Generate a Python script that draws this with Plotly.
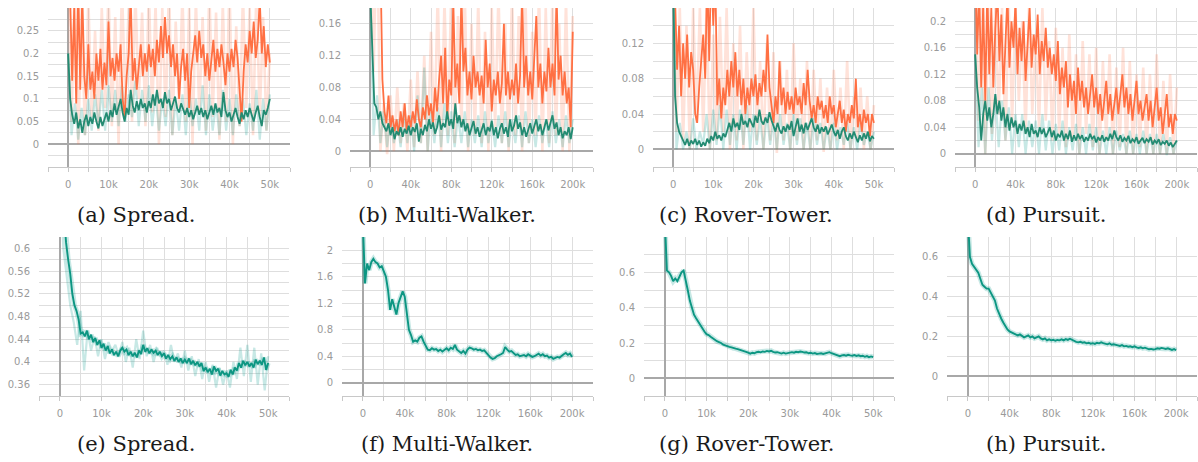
import numpy as np
import plotly.graph_objects as go

# ---------------- data ----------------
# (a) Spread - top row
a_orange = [0.45, 0.32, 0.14, 0.3, 0.09, 0.35, 0.12, 0.33, 0.15, 0.1, 0.22, 0.12, 0.16, 0.1, 0.2, 0.14, 0.21, 0.12, 0.18, 0.13,
            0.27, 0.15, 0.19, 0.14, 0.2, 0.16, 0.22, 0.1, 0.06, 0.15, 0.2, 0.33, 0.14, 0.19, 0.12, 0.17, 0.22, 0.15, 0.2, 0.16,
            0.22, 0.17, 0.21, 0.15, 0.23, 0.18, 0.26, 0.19, 0.28, 0.2, 0.24, 0.17, 0.22, 0.15, 0.2, 0.1, 0.17, 0.21, 0.14, 0.2,
            0.08, 0.16, 0.2, 0.24, 0.18, 0.25, 0.19, 0.22, 0.15, 0.2, 0.14, 0.19, 0.23, 0.16, 0.21, 0.17, 0.22, 0.18, 0.13, 0.2,
            0.16, 0.21, 0.17, 0.23, 0.19, 0.12, 0.05, 0.16, 0.22, 0.18, 0.25, 0.2, 0.27, 0.19, 0.23, 0.32, 0.2, 0.26, 0.17, 0.22, 0.18]
a_green = [0.2, 0.1, 0.065, 0.045, 0.07, 0.035, 0.055, 0.025, 0.05, 0.065, 0.04, 0.06, 0.045, 0.07, 0.05, 0.035, 0.06, 0.04, 0.055, 0.07,
           0.05, 0.075, 0.06, 0.09, 0.065, 0.08, 0.1, 0.07, 0.05, 0.08, 0.065, 0.12, 0.085, 0.07, 0.095, 0.075, 0.1, 0.08, 0.09, 0.07,
           0.095, 0.08, 0.11, 0.085, 0.12, 0.09, 0.1, 0.08, 0.115, 0.09, 0.1, 0.075, 0.09, 0.105, 0.08, 0.07, 0.09, 0.075, 0.065, 0.08,
           0.06, 0.075, 0.055, 0.07, 0.085, 0.065, 0.08, 0.06, 0.075, 0.055, 0.07, 0.085, 0.065, 0.09, 0.07, 0.08, 0.06, 0.115, 0.075, 0.06,
           0.07, 0.05, 0.065, 0.08, 0.06, 0.045, 0.07, 0.055, 0.075, 0.06, 0.08, 0.065, 0.05, 0.07, 0.085, 0.06, 0.04, 0.075, 0.065, 0.08, 0.1]
a_orange_raw = [0.4, 0.05, 0.35, 0.0, 0.3, 0.02, 0.32, 0.06, 0.25, 0.03, 0.3, 0.08, 0.34, 0.04, 0.28, 0.0, 0.35, 0.09, 0.3, 0.05,
                0.33, 0.1, 0.29, 0.04, 0.34, 0.07, 0.31, 0.0, 0.3, 0.06, 0.35, 0.02, 0.27, 0.08, 0.33, 0.05, 0.3, 0.0, 0.32, 0.07,
                0.28, 0.03, 0.34, 0.06, 0.29, 0.01, 0.31, 0.05, 0.35, 0.0, 0.26, 0.04, 0.33, 0.08, 0.3, 0.02, 0.34, 0.06, 0.28, 0.03, 0.2]
a_green_raw = [0.2, 0.02, 0.09, 0.01, 0.08, 0.02, 0.1, 0.03, 0.11, 0.04, 0.12, 0.03, 0.13, 0.05, 0.12, 0.04, 0.13, 0.05, 0.11, 0.06,
               0.14, 0.04, 0.12, 0.05, 0.13, 0.04, 0.11, 0.03, 0.1, 0.04, 0.12, 0.02, 0.1, 0.03, 0.11, 0.02, 0.12, 0.04, 0.1, 0.03,
               0.13, 0.02, 0.11, 0.03, 0.09, 0.02, 0.12, 0.03, 0.1, 0.02, 0.11, 0.04, 0.1, 0.02, 0.09, 0.03, 0.12, 0.01, 0.1, 0.03, 0.11]

# (b) Multi-Walker - top row
b_orange = [0.3, 0.25, 0.22, 0.3, 0.2, 0.24, 0.09, 0.05, 0.035, 0.07, 0.03, 0.045, 0.025, 0.04, 0.02, 0.05, 0.03, 0.06, 0.025, 0.045,
            0.03, 0.05, 0.035, 0.065, 0.04, 0.03, 0.055, 0.04, 0.07, 0.045, 0.06, 0.035, 0.08, 0.05, 0.09, 0.12, 0.06, 0.13, 0.04, 0.09,
            0.07, 0.19, 0.08, 0.11, 0.06, 0.2, 0.1, 0.13, 0.07, 0.1, 0.065, 0.12, 0.08, 0.1, 0.07, 0.095, 0.06, 0.14, 0.08, 0.11,
            0.05, 0.09, 0.07, 0.1, 0.06, 0.085, 0.16, 0.07, 0.1, 0.065, 0.09, 0.07, 0.11, 0.06, 0.095, 0.2, 0.08, 0.12, 0.07, 0.1,
            0.065, 0.12, 0.17, 0.08, 0.11, 0.06, 0.1, 0.075, 0.13, 0.08, 0.11, 0.07, 0.2, 0.09, 0.12, 0.07, 0.1, 0.06, 0.08, 0.03, 0.15]
b_green = [0.2, 0.13, 0.06, 0.055, 0.04, 0.05, 0.035, 0.03, 0.025, 0.035, 0.02, 0.03, 0.015, 0.025, 0.02, 0.03, 0.018, 0.028, 0.022, 0.032,
           0.02, 0.03, 0.024, 0.035, 0.012, 0.028, 0.02, 0.033, 0.025, 0.04, 0.028, 0.036, 0.022, 0.03, 0.045, 0.027, 0.035, 0.03, 0.05, 0.032,
           0.04, 0.028, 0.06, 0.035, 0.045, 0.03, 0.04, 0.025, 0.035, 0.02, 0.03, 0.038, 0.022, 0.03, 0.018, 0.028, 0.035, 0.02, 0.03, 0.025,
           0.038, 0.02, 0.03, 0.016, 0.028, 0.035, 0.022, 0.03, 0.018, 0.04, 0.025, 0.032, 0.045, 0.028, 0.036, 0.02, 0.03, 0.018, 0.026, 0.035,
           0.022, 0.03, 0.04, 0.025, 0.034, 0.02, 0.03, 0.04, 0.026, 0.035, 0.045, 0.028, 0.036, 0.02, 0.03, 0.016, 0.025, 0.02, 0.03, 0.015, 0.03]
b_orange_raw = [0.3, 0.1, 0.3, 0.0, 0.06, -0.004, 0.07, 0.0, 0.08, 0.01, 0.06, 0.0, 0.09, 0.005, 0.1, 0.01, 0.12, 0.0, 0.15, 0.02,
                0.2, 0.0, 0.19, 0.02, 0.2, 0.01, 0.17, 0.03, 0.2, 0.0, 0.16, 0.02, 0.19, 0.01, 0.15, 0.0, 0.18, 0.03, 0.2, 0.01,
                0.16, 0.0, 0.2, 0.02, 0.17, 0.0, 0.19, 0.01, 0.15, 0.02, 0.2, 0.0, 0.18, 0.01, 0.2, 0.02, 0.16, 0.0, 0.19, 0.0, 0.17]
b_green_raw = [0.2, 0.02, 0.07, 0.01, 0.05, 0.005, 0.045, 0.01, 0.04, 0.005, 0.05, 0.01, 0.045, 0.0, 0.07, 0.01, 0.105, 0.0, 0.05, 0.01,
               0.055, 0.005, 0.06, 0.01, 0.05, 0.005, 0.045, 0.01, 0.05, 0.005, 0.04, 0.01, 0.045, 0.005, 0.05, 0.01, 0.04, 0.005, 0.045, 0.01,
               0.05, 0.005, 0.04, 0.01, 0.045, 0.005, 0.05, 0.01, 0.04, 0.005, 0.045, 0.01, 0.04, 0.005, 0.05, 0.01, 0.04, 0.005, 0.045, 0.01, 0.04]

# (c) Rover-Tower - top row
c_orange = [0.25, 0.17, 0.09, 0.14, 0.06, 0.12, 0.08, 0.13, 0.07, 0.11, 0.09, 0.04, 0.03, 0.07, 0.1, 0.13, 0.08, 0.2, 0.1, 0.22,
            0.14, 0.2, 0.05, 0.08, 0.035, 0.07, 0.05, 0.09, 0.06, 0.1, 0.07, 0.11, 0.06, 0.09, 0.05, 0.08, 0.04, 0.07, 0.05, 0.08,
            0.06, 0.085, 0.05, 0.075, 0.06, 0.09, 0.065, 0.13, 0.07, 0.05, 0.03, 0.06, 0.04, 0.1, 0.05, 0.07, 0.04, 0.065, 0.045, 0.06,
            0.04, 0.07, 0.05, 0.06, 0.04, 0.075, 0.05, 0.09, 0.055, 0.035, 0.05, 0.03, 0.06, 0.045, 0.055, 0.035, 0.05, 0.03, 0.06, 0.04,
            0.05, 0.025, 0.04, 0.055, 0.03, 0.045, 0.02, 0.04, 0.03, 0.05, 0.035, 0.08, 0.025, 0.04, 0.02, 0.045, 0.03, 0.04, 0.015, 0.04, 0.03]
c_green = [0.2, 0.06, 0.03, 0.02, 0.015, 0.01, 0.005, 0.012, 0.004, 0.01, 0.006, 0.012, 0.005, 0.01, 0.003, 0.008, 0.004, 0.012, 0.007, 0.015,
           0.01, 0.02, 0.012, 0.016, 0.01, 0.018, 0.014, 0.022, 0.03, 0.02, 0.035, 0.025, 0.03, 0.022, 0.04, 0.028, 0.032, 0.025, 0.035, 0.03,
           0.025, 0.038, 0.03, 0.045, 0.032, 0.028, 0.036, 0.03, 0.042, 0.033, 0.025, 0.02, 0.03, 0.022, 0.018, 0.026, 0.02, 0.028, 0.022, 0.032,
           0.015, 0.025, 0.035, 0.02, 0.028, 0.018, 0.03, 0.022, 0.03, 0.035, 0.025, 0.02, 0.028, 0.018, 0.025, 0.02, 0.026, 0.017, 0.022, 0.028,
           0.02, 0.015, 0.022, 0.012, 0.02, 0.025, 0.015, 0.01, 0.018, 0.012, 0.02, 0.014, 0.008, 0.016, 0.01, 0.018, 0.012, 0.02, 0.009, 0.015, 0.012]
c_orange_raw = [0.25, 0.02, 0.16, 0.01, 0.14, 0.0, 0.16, 0.03, 0.16, 0.02, 0.16, 0.0, 0.13, 0.01, 0.15, 0.02, 0.16, 0.0, 0.12, 0.01,
                0.14, 0.0, 0.11, 0.02, 0.16, 0.01, 0.1, 0.0, 0.12, 0.01, 0.11, -0.004, 0.1, 0.01, 0.09, 0.0, 0.12, 0.01, 0.08, 0.0,
                0.1, 0.0, 0.09, 0.01, 0.08, -0.003, 0.07, 0.0, 0.09, 0.01, 0.07, 0.0, 0.1, 0.0, 0.06, 0.01, 0.07, 0.0, 0.06, 0.0, 0.05]
c_green_raw = [0.2, 0.0, 0.03, 0.0, 0.02, 0.0, 0.035, 0.0, 0.02, 0.005, 0.04, 0.0, 0.045, 0.005, 0.05, 0.0, 0.045, 0.005, 0.04, 0.0,
               0.045, 0.005, 0.05, 0.0, 0.04, 0.005, 0.035, 0.0, 0.04, 0.005, 0.035, 0.0, 0.04, 0.005, 0.03, 0.0, 0.04, 0.005, 0.035, 0.0,
               0.03, 0.0, 0.035, 0.005, 0.03, 0.0, 0.025, 0.0, 0.03, 0.0, 0.025, 0.005, 0.03, 0.0, 0.025, 0.0, 0.03, 0.005, 0.02, 0.0, 0.02]

# (d) Pursuit - top row
d_orange = [0.3, 0.15, 0.25, 0.1, 0.23, 0.08, 0.25, 0.12, 0.22, 0.1, 0.19, 0.25, 0.14, 0.21, 0.09, 0.18, 0.24, 0.13, 0.2, 0.16,
            0.23, 0.12, 0.19, 0.14, 0.2, 0.11, 0.17, 0.22, 0.13, 0.18, 0.15, 0.21, 0.12, 0.17, 0.14, 0.19, 0.13, 0.16, 0.12, 0.15,
            0.11, 0.17, 0.09, 0.13, 0.1, 0.14, 0.07, 0.12, 0.08, 0.11, 0.06, 0.13, 0.08, 0.11, 0.07, 0.1, 0.06, 0.09, 0.12, 0.07,
            0.1, 0.06, 0.09, 0.05, 0.08, 0.11, 0.06, 0.09, 0.05, 0.08, 0.1, 0.06, 0.09, 0.12, 0.07, 0.1, 0.06, 0.09, 0.05, 0.08,
            0.11, 0.06, 0.08, 0.05, 0.07, 0.09, 0.05, 0.08, 0.04, 0.07, 0.1, 0.05, 0.07, 0.03, 0.06, 0.09, 0.04, 0.06, 0.03, 0.06, 0.05]
d_green = [0.15, 0.1, 0.07, 0.02, 0.06, 0.08, 0.05, 0.07, 0.04, 0.06, 0.09, 0.06, 0.08, 0.05, 0.07, 0.04, 0.06, 0.035, 0.055, 0.04,
           0.05, 0.03, 0.045, 0.035, 0.05, 0.03, 0.04, 0.025, 0.045, 0.03, 0.035, 0.025, 0.04, 0.03, 0.038, 0.025, 0.032, 0.04, 0.025, 0.035,
           0.02, 0.03, 0.025, 0.035, 0.02, 0.03, 0.022, 0.035, 0.018, 0.028, 0.02, 0.03, 0.022, 0.028, 0.018, 0.025, 0.02, 0.03, 0.022, 0.027,
           0.017, 0.025, 0.02, 0.028, 0.018, 0.025, 0.02, 0.03, 0.022, 0.035, 0.025, 0.02, 0.028, 0.018, 0.024, 0.02, 0.027, 0.016, 0.022, 0.018,
           0.025, 0.015, 0.02, 0.024, 0.016, 0.022, 0.018, 0.025, 0.014, 0.02, 0.016, 0.022, 0.013, 0.018, 0.015, 0.02, 0.012, 0.017, 0.01, 0.015, 0.02]
d_orange_raw = [0.3, 0.05, 0.22, 0.0, 0.22, 0.03, 0.22, 0.06, 0.22, 0.02, 0.22, 0.05, 0.22, 0.08, 0.2, 0.03, 0.22, 0.06, 0.18, 0.04,
                0.22, 0.05, 0.17, 0.02, 0.19, 0.03, 0.16, 0.01, 0.18, 0.02, 0.15, 0.0, 0.17, 0.03, 0.15, 0.01, 0.16, 0.0, 0.14, 0.02,
                0.15, 0.0, 0.13, 0.01, 0.16, 0.0, 0.14, 0.0, 0.12, 0.01, 0.13, 0.0, 0.12, 0.0, 0.15, 0.0, 0.11, 0.0, 0.12, 0.0, 0.1]
d_green_raw = [0.15, 0.01, 0.1, 0.0, 0.1, 0.02, 0.09, 0.01, 0.08, 0.02, 0.07, 0.0, 0.06, 0.01, 0.06, 0.0, 0.05, 0.01, 0.05, 0.0,
               0.06, 0.005, 0.05, 0.0, 0.045, 0.005, 0.05, 0.0, 0.04, 0.005, 0.045, 0.0, 0.04, 0.0, 0.045, 0.005, 0.04, 0.0, 0.035, 0.0,
               0.04, 0.0, 0.035, 0.005, 0.03, 0.0, 0.035, 0.0, 0.03, 0.0, 0.035, 0.0, 0.03, 0.0, 0.03, 0.0, 0.03, -0.002, 0.025, 0.0, 0.02]

# (e) Spread - bottom row
e_green = [0.75, 0.7, 0.65, 0.61, 0.58, 0.555, 0.52, 0.5, 0.49, 0.475, 0.45, 0.452, 0.445, 0.455, 0.44, 0.448, 0.435, 0.442, 0.43, 0.438,
           0.425, 0.432, 0.42, 0.428, 0.415, 0.422, 0.412, 0.418, 0.41, 0.42, 0.425, 0.418, 0.422, 0.412, 0.418, 0.41, 0.416, 0.408, 0.42, 0.414,
           0.43, 0.418, 0.424, 0.415, 0.422, 0.416, 0.42, 0.412, 0.418, 0.41, 0.415, 0.406, 0.412, 0.405, 0.41, 0.402, 0.408, 0.4, 0.406, 0.398,
           0.404, 0.398, 0.406, 0.396, 0.402, 0.394, 0.4, 0.392, 0.398, 0.384, 0.39, 0.382, 0.388, 0.378, 0.392, 0.384, 0.388, 0.376, 0.384, 0.378,
           0.38, 0.374, 0.386, 0.378, 0.39, 0.385, 0.398, 0.39, 0.402, 0.394, 0.4, 0.392, 0.398, 0.39, 0.404, 0.396, 0.402, 0.395, 0.408, 0.386, 0.398]
e_green_raw = [0.75, 0.6, 0.55, 0.5, 0.47, 0.43, 0.49, 0.385, 0.455, 0.42, 0.445, 0.41, 0.44, 0.405, 0.435, 0.42, 0.43, 0.41, 0.435, 0.4,
               0.425, 0.39, 0.44, 0.405, 0.455, 0.41, 0.43, 0.4, 0.425, 0.41, 0.42, 0.395, 0.43, 0.4, 0.415, 0.39, 0.42, 0.385, 0.41, 0.375,
               0.405, 0.37, 0.4, 0.365, 0.395, 0.355, 0.39, 0.36, 0.385, 0.355, 0.4, 0.37, 0.425, 0.375, 0.43, 0.365, 0.425, 0.36, 0.415, 0.35, 0.41]

# (f) Multi-Walker - bottom row
f_green = [2.4, 1.5, 1.8, 1.7, 1.82, 1.87, 1.82, 1.8, 1.74, 1.76, 1.68, 1.6, 1.4, 1.1, 1.26, 1.12, 1.03, 1.2, 1.3, 1.38,
           1.3, 1.0, 0.8, 0.72, 0.62, 0.64, 0.62, 0.68, 0.7, 0.62, 0.55, 0.5, 0.49, 0.52, 0.5, 0.51, 0.48, 0.5, 0.47, 0.5,
           0.52, 0.49, 0.53, 0.51, 0.57, 0.5, 0.47, 0.45, 0.48, 0.44, 0.5, 0.53, 0.52, 0.5, 0.51, 0.49, 0.5, 0.48, 0.49, 0.45,
           0.42, 0.38, 0.36, 0.37, 0.4, 0.41, 0.43, 0.45, 0.54, 0.5, 0.47, 0.48, 0.45, 0.42, 0.43, 0.4, 0.41, 0.42, 0.4, 0.43,
           0.41, 0.39, 0.4, 0.42, 0.44, 0.41, 0.43, 0.4, 0.41, 0.38, 0.39, 0.36, 0.37, 0.39, 0.38, 0.41, 0.43, 0.45, 0.42, 0.44, 0.39]

# (g) Rover-Tower - bottom row
g_green = [0.9, 0.61, 0.6, 0.58, 0.55, 0.565, 0.55, 0.58, 0.6, 0.61, 0.56, 0.5, 0.44, 0.4, 0.36, 0.34, 0.32, 0.3, 0.28, 0.265,
           0.25, 0.245, 0.235, 0.225, 0.22, 0.21, 0.205, 0.2, 0.19, 0.185, 0.18, 0.178, 0.175, 0.17, 0.168, 0.165, 0.162, 0.158, 0.155, 0.15,
           0.145, 0.14, 0.145, 0.142, 0.148, 0.15, 0.147, 0.152, 0.15, 0.155, 0.152, 0.156, 0.15, 0.146, 0.148, 0.142, 0.14, 0.145, 0.14, 0.143,
           0.145, 0.148, 0.145, 0.15, 0.148, 0.152, 0.15, 0.146, 0.148, 0.142, 0.145, 0.14, 0.143, 0.138, 0.14, 0.142, 0.138, 0.14, 0.145, 0.148,
           0.142, 0.138, 0.132, 0.128, 0.125, 0.13, 0.132, 0.128, 0.133, 0.13, 0.128, 0.132, 0.127, 0.13, 0.125, 0.128, 0.122, 0.126, 0.12, 0.124, 0.12]

# (h) Pursuit - bottom row
h_green = [0.8, 0.6, 0.565, 0.55, 0.53, 0.52, 0.49, 0.46, 0.45, 0.44, 0.44, 0.42, 0.4, 0.38, 0.34, 0.31, 0.29, 0.27, 0.25, 0.235,
           0.225, 0.22, 0.215, 0.21, 0.205, 0.21, 0.2, 0.195, 0.2, 0.205, 0.195, 0.2, 0.19, 0.195, 0.2, 0.19, 0.185, 0.19, 0.18, 0.185,
           0.18, 0.183, 0.178, 0.182, 0.18, 0.185, 0.18, 0.186, 0.182, 0.188, 0.183, 0.175, 0.172, 0.17, 0.173, 0.168, 0.17, 0.165, 0.168, 0.163,
           0.166, 0.162, 0.168, 0.165, 0.17, 0.166, 0.163, 0.16, 0.165, 0.158, 0.16, 0.156, 0.155, 0.152, 0.156, 0.15, 0.152, 0.148, 0.15, 0.146,
           0.15, 0.145, 0.142, 0.145, 0.14, 0.143, 0.138, 0.135, 0.137, 0.134, 0.136, 0.14, 0.138, 0.142, 0.14, 0.137, 0.14, 0.135, 0.132, 0.136, 0.13]

# tick labels
x50_ticks = [0, 10000, 20000, 30000, 40000, 50000]
x50_labels = ["0", "10k", "20k", "30k", "40k", "50k"]
x200_ticks = [0, 40000, 80000, 120000, 160000, 200000]
x200_labels = ["0", "40k", "80k", "120k", "160k", "200k"]
a_yticks = [0, 0.05, 0.1, 0.15, 0.2, 0.25]
a_ylabels = ["0", "0.05", "0.1", "0.15", "0.2", "0.25"]
b_yticks = [0, 0.04, 0.08, 0.12, 0.16]
b_ylabels = ["0", "0.04", "0.08", "0.12", "0.16"]
c_yticks = [0, 0.04, 0.08, 0.12]
c_ylabels = ["0", "0.04", "0.08", "0.12"]
d_yticks = [0, 0.04, 0.08, 0.12, 0.16, 0.2]
d_ylabels = ["0", "0.04", "0.08", "0.12", "0.16", "0.2"]
e_yticks = [0.36, 0.4, 0.44, 0.48, 0.52, 0.56, 0.6]
e_ylabels = ["0.36", "0.4", "0.44", "0.48", "0.52", "0.56", "0.6"]
f_yticks = [0, 0.4, 0.8, 1.2, 1.6, 2]
f_ylabels = ["0", "0.4", "0.8", "1.2", "1.6", "2"]
g_yticks = [0, 0.2, 0.4, 0.6]
g_ylabels = ["0", "0.2", "0.4", "0.6"]
h_yticks = [0, 0.2, 0.4, 0.6]
h_ylabels = ["0", "0.2", "0.4", "0.6"]

captions = ["(a) Spread.", "(b) Multi-Walker.", "(c) Rover-Tower.", "(d) Pursuit.",
            "(e) Spread.", "(f) Multi-Walker.", "(g) Rover-Tower.", "(h) Pursuit."]

# ---------------- styling / layout ----------------
W, H = 1198, 462
ORANGE = "#ff7043"
ORANGE_LIGHT = "rgba(255,112,67,0.2)"
GREEN_TOP = "#238b72"
GREEN = "#0c9682"
GREEN_LIGHT = "rgba(0,150,136,0.22)"
GRID = "#dedede"
ZERO = "#a8a8a8"
TICKFONT = dict(family="DejaVu Sans", size=10, color="#9a9a9a")

panels = [
    dict(xmax=50000, orange=a_orange, green=a_green, oraw=a_orange_raw, graw=a_green_raw,
         yr=[-0.05, 0.3], yt=a_yticks, yl=a_ylabels, ym=0.025, box=(48, 290, 8, 167), cx=136, cy=215),
    dict(xmax=200000, orange=b_orange, green=b_green, oraw=b_orange_raw, graw=b_green_raw,
         yr=[-0.02, 0.18], yt=b_yticks, yl=b_ylabels, ym=0.02, box=(350, 593, 8, 167), cx=447, cy=215),
    dict(xmax=50000, orange=c_orange, green=c_green, oraw=c_orange_raw, graw=c_green_raw,
         yr=[-0.02, 0.16], yt=c_yticks, yl=c_ylabels, ym=0.02, box=(653, 894, 8, 167), cx=746, cy=215),
    dict(xmax=200000, orange=d_orange, green=d_green, oraw=d_orange_raw, graw=d_green_raw,
         yr=[-0.02, 0.22], yt=d_yticks, yl=d_ylabels, ym=0.02, box=(955, 1197, 8, 167), cx=1046, cy=215),
    dict(xmax=50000, green=e_green, graw=e_green_raw,
         yr=[0.34, 0.62], yt=e_yticks, yl=e_ylabels, ym=0.02, box=(39, 289, 237, 396), cx=136, cy=444),
    dict(xmax=200000, green=f_green,
         yr=[-0.2, 2.2], yt=f_yticks, yl=f_ylabels, ym=0.2, box=(342, 593, 237, 396), cx=447, cy=444),
    dict(xmax=50000, green=g_green,
         yr=[-0.1, 0.8], yt=g_yticks, yl=g_ylabels, ym=0.1, box=(644, 894, 237, 396), cx=746, cy=444),
    dict(xmax=200000, green=h_green,
         yr=[-0.1, 0.7], yt=h_yticks, yl=h_ylabels, ym=0.1, box=(947, 1197, 237, 396), cx=1046, cy=444),
]

fig = go.Figure()
layout = {}
annotations = []

for i, p in enumerate(panels):
    n = i + 1
    xa = "x" if n == 1 else f"x{n}"
    ya = "y" if n == 1 else f"y{n}"
    xmax = p["xmax"]
    top_row = "orange" in p

    def steps(arr):
        return np.linspace(0, xmax, len(arr))

    if top_row:
        fig.add_trace(go.Scatter(x=steps(p["oraw"]), y=p["oraw"], mode="lines",
                                 line=dict(color=ORANGE_LIGHT, width=2.6), xaxis=xa, yaxis=ya, showlegend=False))
        fig.add_trace(go.Scatter(x=steps(p["graw"]), y=p["graw"], mode="lines",
                                 line=dict(color=GREEN_LIGHT, width=2.2), xaxis=xa, yaxis=ya, showlegend=False))
        fig.add_trace(go.Scatter(x=steps(p["orange"]), y=p["orange"], mode="lines",
                                 line=dict(color=ORANGE, width=1.8), xaxis=xa, yaxis=ya, showlegend=False))
        fig.add_trace(go.Scatter(x=steps(p["green"]), y=p["green"], mode="lines",
                                 line=dict(color=GREEN_TOP, width=1.8), xaxis=xa, yaxis=ya, showlegend=False))
    else:
        if "graw" in p:
            fig.add_trace(go.Scatter(x=steps(p["graw"]), y=p["graw"], mode="lines",
                                     line=dict(color=GREEN_LIGHT, width=2.2), xaxis=xa, yaxis=ya, showlegend=False))
        fig.add_trace(go.Scatter(x=steps(p["green"]), y=p["green"], mode="lines",
                                 line=dict(color=GREEN_LIGHT, width=5), xaxis=xa, yaxis=ya, showlegend=False))
        fig.add_trace(go.Scatter(x=steps(p["green"]), y=p["green"], mode="lines",
                                 line=dict(color=GREEN, width=1.9), xaxis=xa, yaxis=ya, showlegend=False))

    l, r, t, b = p["box"]
    if xmax == 50000:
        xr, xt, xl, xm = [-5000, 55000], x50_ticks, x50_labels, 5000
    else:
        xr, xt, xl, xm = [-20000, 220000], x200_ticks, x200_labels, 20000

    xkey = "xaxis" if n == 1 else f"xaxis{n}"
    ykey = "yaxis" if n == 1 else f"yaxis{n}"
    layout[xkey] = dict(
        domain=[l / W, r / W], anchor=ya, range=xr, tickmode="array", tickvals=xt, ticktext=xl,
        showgrid=True, gridcolor=GRID, gridwidth=1,
        zeroline=True, zerolinecolor=ZERO, zerolinewidth=1.6,
        showline=True, linecolor="#c8c8c8", linewidth=1,
        ticks="outside", ticklen=4, tickcolor="#c8c8c8", tickwidth=1,
        minor=dict(tick0=0, dtick=xm, showgrid=True, gridcolor=GRID, gridwidth=1,
                   ticks="outside", ticklen=4, tickcolor="#c8c8c8"),
        tickfont=TICKFONT, ticklabelstandoff=4, fixedrange=True,
    )
    layout[ykey] = dict(
        domain=[1 - b / H, 1 - t / H], anchor=xa, range=p["yr"], tickmode="array", tickvals=p["yt"], ticktext=p["yl"],
        showgrid=True, gridcolor=GRID, gridwidth=1,
        zeroline=True, zerolinecolor=ZERO, zerolinewidth=1.6,
        showline=False, ticks="",
        minor=dict(tick0=0, dtick=p["ym"], showgrid=True, gridcolor=GRID, gridwidth=1),
        tickfont=TICKFONT, ticklabelstandoff=8, fixedrange=True,
    )
    annotations.append(dict(text=captions[i], x=p["cx"] / W, y=1 - p["cy"] / H, xref="paper", yref="paper",
                            xanchor="center", yanchor="middle", showarrow=False,
                            font=dict(family="DejaVu Serif", size=21, color="#1a1a1a")))

fig.update_layout(
    width=W, height=H, margin=dict(l=0, r=0, t=0, b=0),
    paper_bgcolor="white", plot_bgcolor="white",
    annotations=annotations, **layout,
)

fig.write_html("out.html")
